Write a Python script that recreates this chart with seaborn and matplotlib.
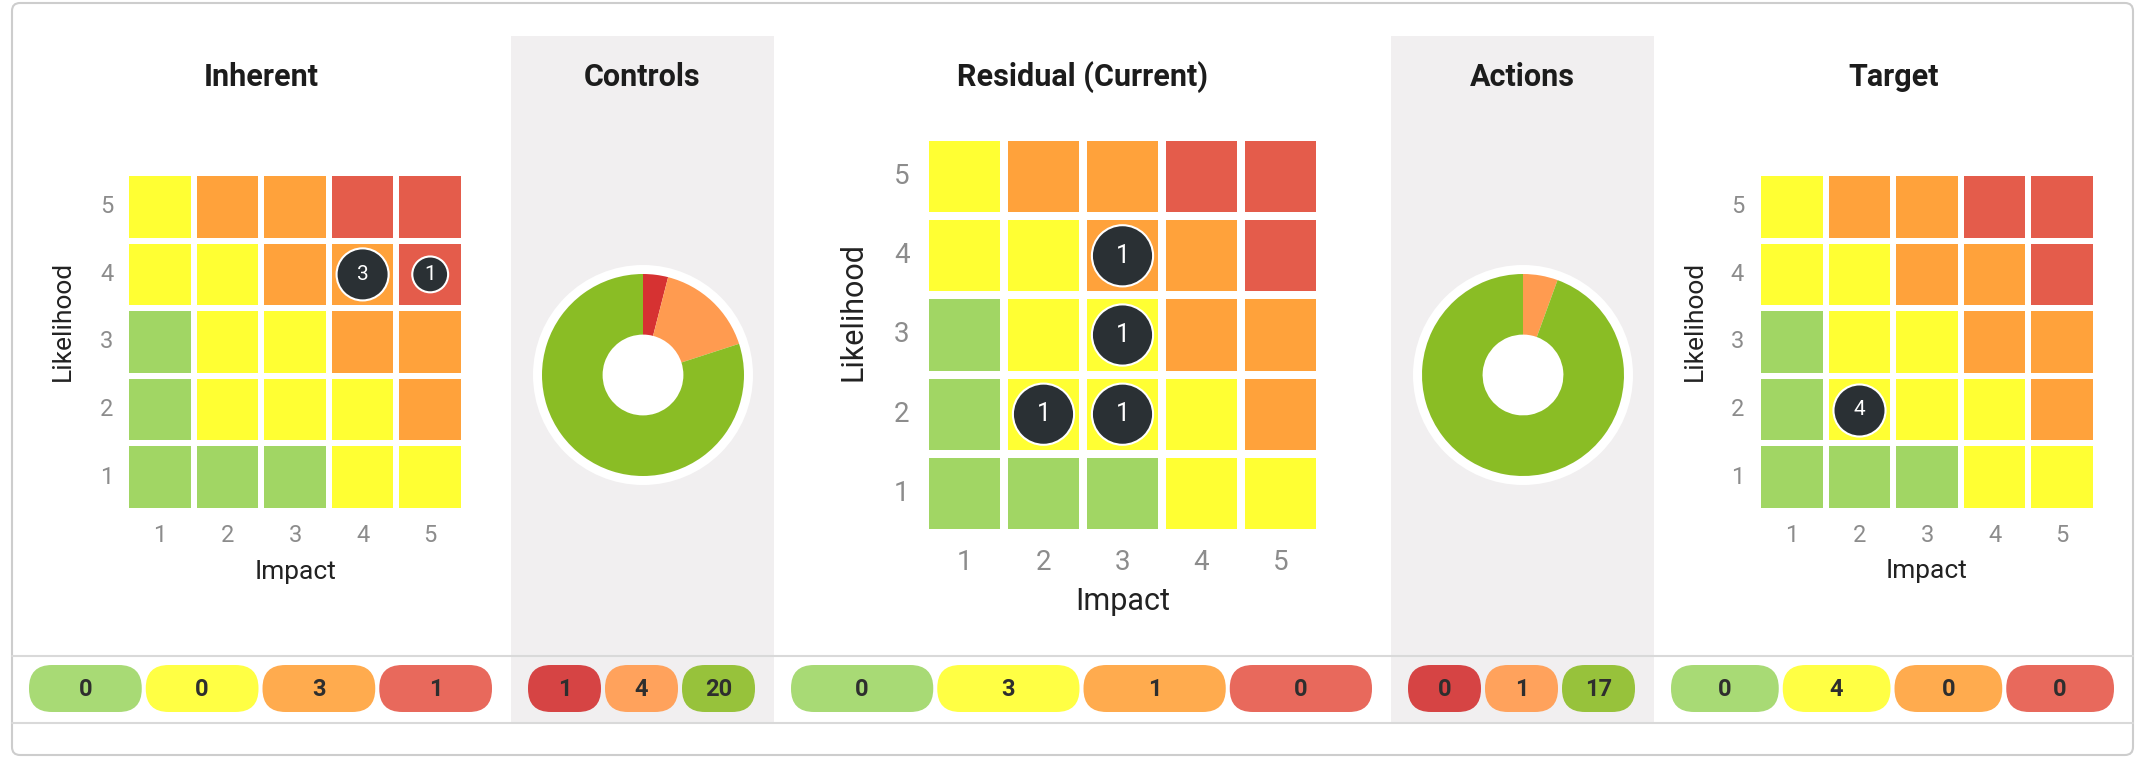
import matplotlib.pyplot as plt
import seaborn as sns
import pandas as pd
from matplotlib.colors import ListedColormap
from matplotlib.patches import FancyBboxPatch, Rectangle, Circle

# Risk matrix: rows = likelihood 5..1, columns = impact 1..5
# levels: 1 low (green), 2 medium (yellow), 3 high (orange), 4 very high (red)
likelihood = [5, 4, 3, 2, 1]
impact = [1, 2, 3, 4, 5]
risk_grid = [
    [2, 3, 3, 4, 4],
    [2, 2, 3, 3, 4],
    [1, 2, 2, 3, 3],
    [1, 2, 2, 2, 3],
    [1, 1, 1, 2, 2],
]
level_colors = ["#a1d664", "#ffff33", "#ffa23b", "#e45c4b"]
level_pill_colors = ["#a8da75", "#ffff44", "#ffab4e", "#e8695c"]

# risks placed on each matrix
inherent_impact = [4, 5]
inherent_likelihood = [4, 4]
inherent_count = [3, 1]

residual_impact = [3, 3, 2, 3]
residual_likelihood = [4, 3, 2, 2]
residual_count = [1, 1, 1, 1]

target_impact = [2]
target_likelihood = [2]
target_count = [4]

# donuts (red, orange, green)
controls_values = [1, 4, 20]
actions_values = [0, 1, 17]
donut_colors = ["#d63232", "#ff9b50", "#8abd25"]
donut_pill_colors = ["#d64444", "#ffa25c", "#97c23b"]

W, H = 2143, 757
sections = [(12, 511), (511, 774), (774, 1391), (1391, 1654), (1654, 2133)]
titles = ["Inherent", "Controls", "Residual (Current)", "Actions", "Target"]

sns.set_style("white")
plt.rcParams["font.family"] = ["Roboto", "DejaVu Sans"]

fig = plt.figure(figsize=(W / 100, H / 100), dpi=100)


def px_rect(x0, y0, x1, y1):
    return [x0 / W, 1 - y1 / H, (x1 - x0) / W, (y1 - y0) / H]


# background layer in pixel units
bg = fig.add_axes([0, 0, 1, 1])
bg.set_xlim(0, W)
bg.set_ylim(H, 0)
bg.axis("off")
bg.set_zorder(-1)

bg.add_patch(FancyBboxPatch((12, 3), 2121, 752, boxstyle="round,pad=0,rounding_size=8",
                            fc="white", ec="#cdcdcd", lw=1.5))
for i in (1, 3):
    a, b = sections[i]
    bg.add_patch(Rectangle((a, 36), b - a, 723 - 36, fc="#f1eff0", ec="none"))
for y in (656, 723):
    bg.plot([12, 2133], [y, y], color="#d9d9d9", lw=1.5)

for (a, b), t in zip(sections, titles):
    bg.text((a + b) / 2, 77, t, ha="center", va="center", fontsize=22,
            fontweight="bold", color="#1c1c1c")


def draw_pills(section, values, colors):
    x0, x1 = section[0] + 17, section[1] - 19
    gap = 4
    n = len(values)
    w = (x1 - x0 - gap * (n - 1)) / n
    for i, (v, c) in enumerate(zip(values, colors)):
        bx = x0 + i * (w + gap)
        bg.add_patch(FancyBboxPatch((bx, 665), w, 47, boxstyle="round,pad=0,rounding_size=23",
                                    fc=c, ec="none"))
        bg.text(bx + w / 2, 689, str(v), ha="center", va="center", fontsize=17,
                fontweight="bold", color="#2e2e2e")


def draw_matrix(box, gap, imp, lik, cnt, tick_size, label_size, num_size,
                xpad, ypad, xlabel_px, ylabel_px, section):
    x0, y0, x1, y1 = box
    ax = fig.add_axes(px_rect(*box))
    grid = pd.DataFrame(risk_grid, index=likelihood, columns=impact)
    sns.heatmap(grid, ax=ax, cmap=ListedColormap(level_colors), vmin=0.5, vmax=4.5,
                cbar=False, linewidths=gap * 0.72, linecolor="white")

    pts = pd.DataFrame({"impact": imp, "likelihood": lik, "count": cnt})
    pts["x"] = pts["impact"] - 0.5
    pts["y"] = 5.5 - pts["likelihood"]
    pitch = (x1 - x0) / 5
    r_max = 0.40 * pitch
    radii = r_max * (0.55 + 0.45 * pts["count"] / pts["count"].max()) - 1
    sizes = (1.44 * radii) ** 2
    sns.scatterplot(data=pts, x="x", y="y", s=sizes, color="#2a3034", edgecolor="white",
                    linewidth=1.5, ax=ax, legend=False, zorder=3)
    for px, py, c in zip(pts["x"], pts["y"], cnt):
        ax.text(px, py, str(c), ha="center", va="center",
                fontsize=num_size, color="white", zorder=4)
    ax.set_xlim(0, 5)
    ax.set_ylim(5, 0)

    ax.tick_params(axis="both", length=0, labelsize=tick_size, labelcolor="#8c8c8c")
    ax.tick_params(axis="x", pad=xpad)
    ax.tick_params(axis="y", pad=ypad)
    plt.setp(ax.get_xticklabels(), rotation=0)
    plt.setp(ax.get_yticklabels(), rotation=0)

    ax.set_xlabel("Impact", fontsize=label_size, color="#222222")
    ax.set_ylabel("Likelihood", fontsize=label_size, color="#222222")
    ax.xaxis.set_label_coords((xlabel_px[0] - x0) / (x1 - x0), (y1 - xlabel_px[1]) / (y1 - y0))
    ax.yaxis.set_label_coords((ylabel_px[0] - x0) / (x1 - x0), (y1 - ylabel_px[1]) / (y1 - y0))
    ax.xaxis.label.set_va("center")
    ax.yaxis.label.set_va("center")

    # totals per risk level for the pill row
    totals = [0, 0, 0, 0]
    for i_, l_, c_ in zip(imp, lik, cnt):
        level = risk_grid[5 - l_][i_ - 1]
        totals[level - 1] += c_
    draw_pills(section, totals, level_pill_colors)


def draw_donut(center, values, section):
    cx, cy = center
    half = 125
    ax = fig.add_axes(px_rect(cx - half, cy - half, cx + half, cy + half))
    ax.add_patch(Circle((0, 0), 110 / 101, fc="white", ec="none", zorder=0))
    ax.pie(values, colors=donut_colors, startangle=90, counterclock=False, radius=1,
           wedgeprops=dict(width=0.6, linewidth=0))
    ax.set_xlim(-half / 101, half / 101)
    ax.set_ylim(-half / 101, half / 101)
    ax.set_aspect("equal")
    ax.axis("off")
    draw_pills(section, values, donut_pill_colors)


draw_matrix((126, 173, 464, 511), 6, inherent_impact, inherent_likelihood, inherent_count,
            17, 19, 15, 9.5, 9, (296, 572), (63, 321), sections[0])
draw_donut((643, 375), controls_values, sections[1])
draw_matrix((925, 137, 1320, 533), 8, residual_impact, residual_likelihood, residual_count,
            20, 22, 18, 11.5, 11, (1123, 602), (853, 312), sections[2])
draw_donut((1523, 375), actions_values, sections[3])
draw_matrix((1758, 173, 2096, 511), 6, target_impact, target_likelihood, target_count,
            17, 19, 15, 9.5, 10, (1927, 571), (1695, 321), sections[4])

fig.savefig("out.png", dpi=100, facecolor="white")
